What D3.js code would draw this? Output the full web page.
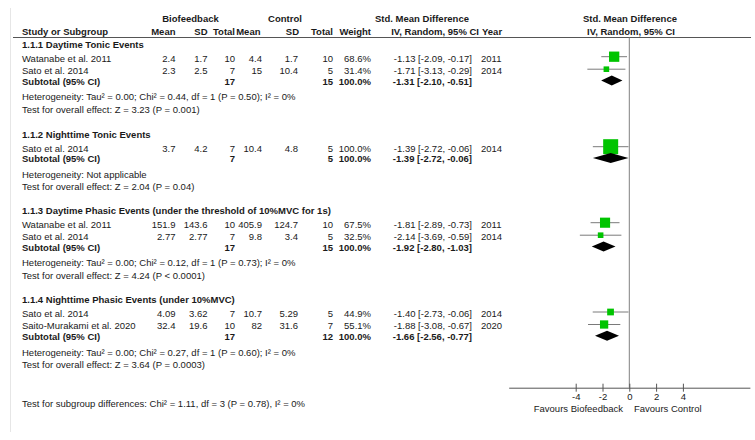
<!DOCTYPE html>
<html>
  <head>
    <meta charset="utf-8" />
    <script src="https://cdn.jsdelivr.net/npm/d3@7"></script>
    <style>
      body {
        margin: 0;
        background: #fff;
      }
      svg text {
        font-family: "Liberation Sans", Arial, sans-serif;
        font-size: 9.5px;
        fill: #1a1a1a;
      }
      .b {
        font-weight: bold;
      }
    </style>
  </head>
  <body>
    <svg id="chart" width="755" height="440"></svg>

    <script>
      // subgroups
      const groups = [
        "1.1.1 Daytime Tonic Events",
        "1.1.2 Nighttime Tonic Events",
        "1.1.3 Daytime Phasic Events (under the threshold of 10%MVC for 1s)",
        "1.1.4 Nighttime Phasic Events (under 10%MVC)",
      ];

      // studies
      const studyGroup = [0, 0, 1, 2, 2, 3, 3];
      const studies = [
        "Watanabe et al. 2011",
        "Sato et al. 2014",
        "Sato et al. 2014",
        "Watanabe et al. 2011",
        "Sato et al. 2014",
        "Sato et al. 2014",
        "Saito-Murakami et al. 2020",
      ];
      const bioMean = ["2.4", "2.3", "3.7", "151.9", "2.77", "4.09", "32.4"];
      const bioSD = ["1.7", "2.5", "4.2", "143.6", "2.77", "3.62", "19.6"];
      const bioN = [10, 7, 7, 10, 7, 7, 10];
      const ctlMean = ["4.4", "15", "10.4", "405.9", "9.8", "10.7", "82"];
      const ctlSD = ["1.7", "10.4", "4.8", "124.7", "3.4", "5.29", "31.6"];
      const ctlN = [10, 5, 5, 10, 5, 5, 7];
      const weight = [68.6, 31.4, 100, 67.5, 32.5, 44.9, 55.1];
      const smd = [-1.13, -1.71, -1.39, -1.81, -2.14, -1.4, -1.88];
      const smdLo = [-2.09, -3.13, -2.72, -2.89, -3.69, -2.73, -3.08];
      const smdHi = [-0.17, -0.29, -0.06, -0.73, -0.59, -0.06, -0.67];
      const years = [2011, 2014, 2014, 2011, 2014, 2014, 2020];

      // subtotals
      const subBioN = [17, 7, 17, 17];
      const subCtlN = [15, 5, 15, 12];
      const subSmd = [-1.31, -1.39, -1.92, -1.66];
      const subLo = [-2.1, -2.72, -2.8, -2.56];
      const subHi = [-0.51, -0.06, -1.03, -0.77];
      const heterogeneity = [
        "Heterogeneity: Tau² = 0.00; Chi² = 0.44, df = 1 (P = 0.50); I² = 0%",
        "Heterogeneity: Not applicable",
        "Heterogeneity: Tau² = 0.00; Chi² = 0.12, df = 1 (P = 0.73); I² = 0%",
        "Heterogeneity: Tau² = 0.00; Chi² = 0.27, df = 1 (P = 0.60); I² = 0%",
      ];
      const overallEffect = [
        "Test for overall effect: Z = 3.23 (P = 0.001)",
        "Test for overall effect: Z = 2.04 (P = 0.04)",
        "Test for overall effect: Z = 4.24 (P < 0.0001)",
        "Test for overall effect: Z = 3.64 (P = 0.0003)",
      ];
      const subgroupTest =
        "Test for subgroup differences: Chi² = 1.11, df = 3 (P = 0.78), I² = 0%";

      const xTicks = [-4, -2, 0, 2, 4];

      const svg = d3.select("#chart");

      // layout
      const groupTop = [47.5, 137.5, 213.5, 302.8];
      const headerLineY = 37.5;
      const axisY = 387.7;
      const col = {
        name: 22,
        bioMean: 175.5,
        bioSD: 207.5,
        bioN: 235,
        ctlMean: 262,
        ctlSD: 298,
        ctlN: 333,
        weight: 371,
        ci: 472,
        year: 481,
      };

      const x = d3.scaleLinear().domain([-9, 9]).range([508.7, 749.9]);
      const boxSize = d3.scaleLinear().domain([0, 100]).range([0, 15]);

      const fmt = (v) => v.toFixed(2);
      const ciText = (m, lo, hi) => `${fmt(m)} [${fmt(lo)}, ${fmt(hi)}]`;

      function txt(xp, yp, s, anchor, bold) {
        return svg
          .append("text")
          .attr("x", xp)
          .attr("y", yp)
          .attr("text-anchor", anchor || "start")
          .attr("class", bold ? "b" : null)
          .text(s);
      }

      // faint frame on the left
      svg.append("line")
        .attr("x1", 10.5).attr("x2", 10.5)
        .attr("y1", 8).attr("y2", 432)
        .attr("stroke", "#e6e6e6");

      // headers
      txt(190.5, 22, "Biofeedback", "middle", true);
      txt(285, 22, "Control", "middle", true);
      txt(422, 22, "Std. Mean Difference", "middle", true);
      txt(630, 22, "Std. Mean Difference", "middle", true);
      txt(col.name, 34.5, "Study or Subgroup", "start", true);
      txt(col.bioMean, 34.5, "Mean", "end", true);
      txt(col.bioSD, 34.5, "SD", "end", true);
      txt(col.bioN, 34.5, "Total", "end", true);
      txt(260.5, 34.5, "Mean", "end", true);
      txt(col.ctlSD + 1, 34.5, "SD", "end", true);
      txt(col.ctlN, 34.5, "Total", "end", true);
      txt(col.weight, 34.5, "Weight", "end", true);
      txt(479, 34.5, "IV, Random, 95% CI", "end", true);
      txt(482, 34.5, "Year", "start", true);
      txt(631, 34.5, "IV, Random, 95% CI", "middle", true);

      svg.append("line")
        .attr("x1", 13).attr("x2", 751)
        .attr("y1", headerLineY).attr("y2", headerLineY)
        .attr("stroke", "#555");

      // zero line
      svg.append("line")
        .attr("x1", x(0)).attr("x2", x(0))
        .attr("y1", headerLineY).attr("y2", axisY)
        .attr("stroke", "#808080");

      groups.forEach((g, gi) => {
        let y = groupTop[gi];
        txt(col.name, y, g, "start", true);
        y += 14;
        let first = true;
        studies.forEach((s, i) => {
          if (studyGroup[i] !== gi) return;
          if (!first) y += 12.5;
          first = false;
          txt(col.name, y, s);
          txt(col.bioMean, y, bioMean[i], "end");
          txt(col.bioSD, y, bioSD[i], "end");
          txt(col.bioN, y, bioN[i], "end");
          txt(col.ctlMean, y, ctlMean[i], "end");
          txt(col.ctlSD, y, ctlSD[i], "end");
          txt(col.ctlN, y, ctlN[i], "end");
          txt(col.weight, y, weight[i].toFixed(1) + "%", "end");
          txt(col.ci, y, ciText(smd[i], smdLo[i], smdHi[i]), "end");
          txt(col.year, y, years[i]);

          const cy = y - 4.8;
          svg.append("line")
            .attr("x1", x(smdLo[i])).attr("x2", x(smdHi[i]))
            .attr("y1", cy).attr("y2", cy)
            .attr("stroke", "#7a7a7a");
          const sz = Math.max(5.6, boxSize(weight[i]));
          svg.append("rect")
            .attr("x", x(smd[i]) - sz / 2)
            .attr("y", cy - sz / 2)
            .attr("width", sz)
            .attr("height", sz)
            .attr("fill", "#00c400");
        });

        y += 10.8;
        txt(col.name, y, "Subtotal (95% CI)", "start", true);
        txt(col.bioN, y, subBioN[gi], "end", true);
        txt(col.ctlN, y, subCtlN[gi], "end", true);
        txt(col.weight, y, "100.0%", "end", true);
        txt(col.ci, y, ciText(subSmd[gi], subLo[gi], subHi[gi]), "end", true);

        const dy = y - 4.3;
        svg.append("path")
          .attr("d", `M${x(subLo[gi])},${dy} L${x(subSmd[gi])},${dy - 5} L${x(subHi[gi])},${dy} L${x(subSmd[gi])},${dy + 5} Z`)
          .attr("fill", "#000");

        y += 15.6;
        txt(col.name, y, heterogeneity[gi]);
        y += 12.4;
        txt(col.name, y, overallEffect[gi]);
      });

      txt(col.name, 406.8, subgroupTest);

      // axis
      const axis = svg.append("g")
        .attr("transform", `translate(0,${axisY})`)
        .call(d3.axisBottom(x).tickValues(xTicks).tickSizeInner(4).tickSizeOuter(0).tickPadding(2).tickFormat((d) => String(d)));
      axis.select(".domain").attr("stroke", "#555");
      axis.selectAll(".tick line").attr("y1", -4).attr("y2", 4).attr("stroke", "#555");
      axis.selectAll(".tick text").attr("font-size", null).attr("font-family", null);

      txt(623, 411.8, "Favours Biofeedback", "end");
      txt(634, 411.8, "Favours Control", "start");
    </script>
  </body>
</html>
